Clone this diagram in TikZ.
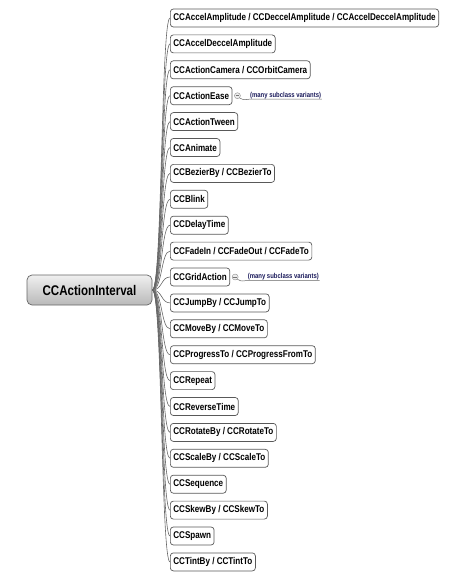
\documentclass[tikz,border=0pt]{standalone}
\usepackage{fontspec}
\setmainfont{Liberation Sans}[FakeStretch=0.825]
\usetikzlibrary{calc}
\begin{document}
\begin{tikzpicture}[x=1pt,y=-1pt,
  childbox/.style={draw=black!65, fill=white, rounded corners=3pt, line width=0.7pt,
    inner xsep=3pt, inner ysep=0pt, minimum height=18pt, anchor=west,
    font=\fontsize{9.8}{10}\selectfont\bfseries, text=black},
  rootbox/.style={draw=black!60, rounded corners=5pt, line width=0.7pt,
    top color=gray!12, bottom color=gray!55, minimum width=125pt, minimum height=30pt,
    font=\fontsize{14}{14}\selectfont\bfseries, text=black},
  conn/.style={draw=black!60, line width=0.6pt},
  minusmark/.style={circle, draw=black!45, fill=gray!15, line width=0.4pt, inner sep=0pt, minimum size=6pt},
  notetext/.style={font=\fontsize{7.2}{7}\selectfont\bfseries, text={rgb,255:red,25;green,25;blue,90}, inner sep=0.5pt, anchor=south west}
]
\useasboundingbox (0,0) rectangle (465,580);
\node[rootbox] (root) at (89.5,290) {CCActionInterval};
\foreach \t [count=\i] in {
  {CCAccelAmplitude / CCDeccelAmplitude / CCAccelDeccelAmplitude},
  {CCAccelDeccelAmplitude},
  {CCActionCamera / CCOrbitCamera},
  {CCActionEase},
  {CCActionTween},
  {CCAnimate},
  {CCBezierBy / CCBezierTo},
  {CCBlink},
  {CCDelayTime},
  {CCFadeIn / CCFadeOut / CCFadeTo},
  {CCGridAction},
  {CCJumpBy / CCJumpTo},
  {CCMoveBy / CCMoveTo},
  {CCProgressTo / CCProgressFromTo},
  {CCRepeat},
  {CCReverseTime},
  {CCRotateBy / CCRotateTo},
  {CCScaleBy / CCScaleTo},
  {CCSequence},
  {CCSkewBy / CCSkewTo},
  {CCSpawn},
  {CCTintBy / CCTintTo}}
{
  \node[childbox] (c\i) at (170, {18+(\i-1)*25.9}) {\t};
  \draw[conn] (root.east) .. controls +(10,0) and +(-9,0) .. (c\i.west);
}
\foreach \k in {4,11} {
  \node[minusmark] (m\k) at ($(c\k.east)+(5,0)$) {};
  \draw[black!55, line width=0.6pt] ($(m\k.center)+(-1.8,0)$) -- ($(m\k.center)+(1.8,0)$);
  \node[notetext] (n\k) at ($(m\k.center)+(12,3.5)$) {(many subclass variants)};
  \draw[conn, line width=0.5pt] (m\k.south east) .. controls +(5,3) and +(-4,0) .. (n\k.south west) -- (n\k.south east);
}
\end{tikzpicture}
\end{document}
